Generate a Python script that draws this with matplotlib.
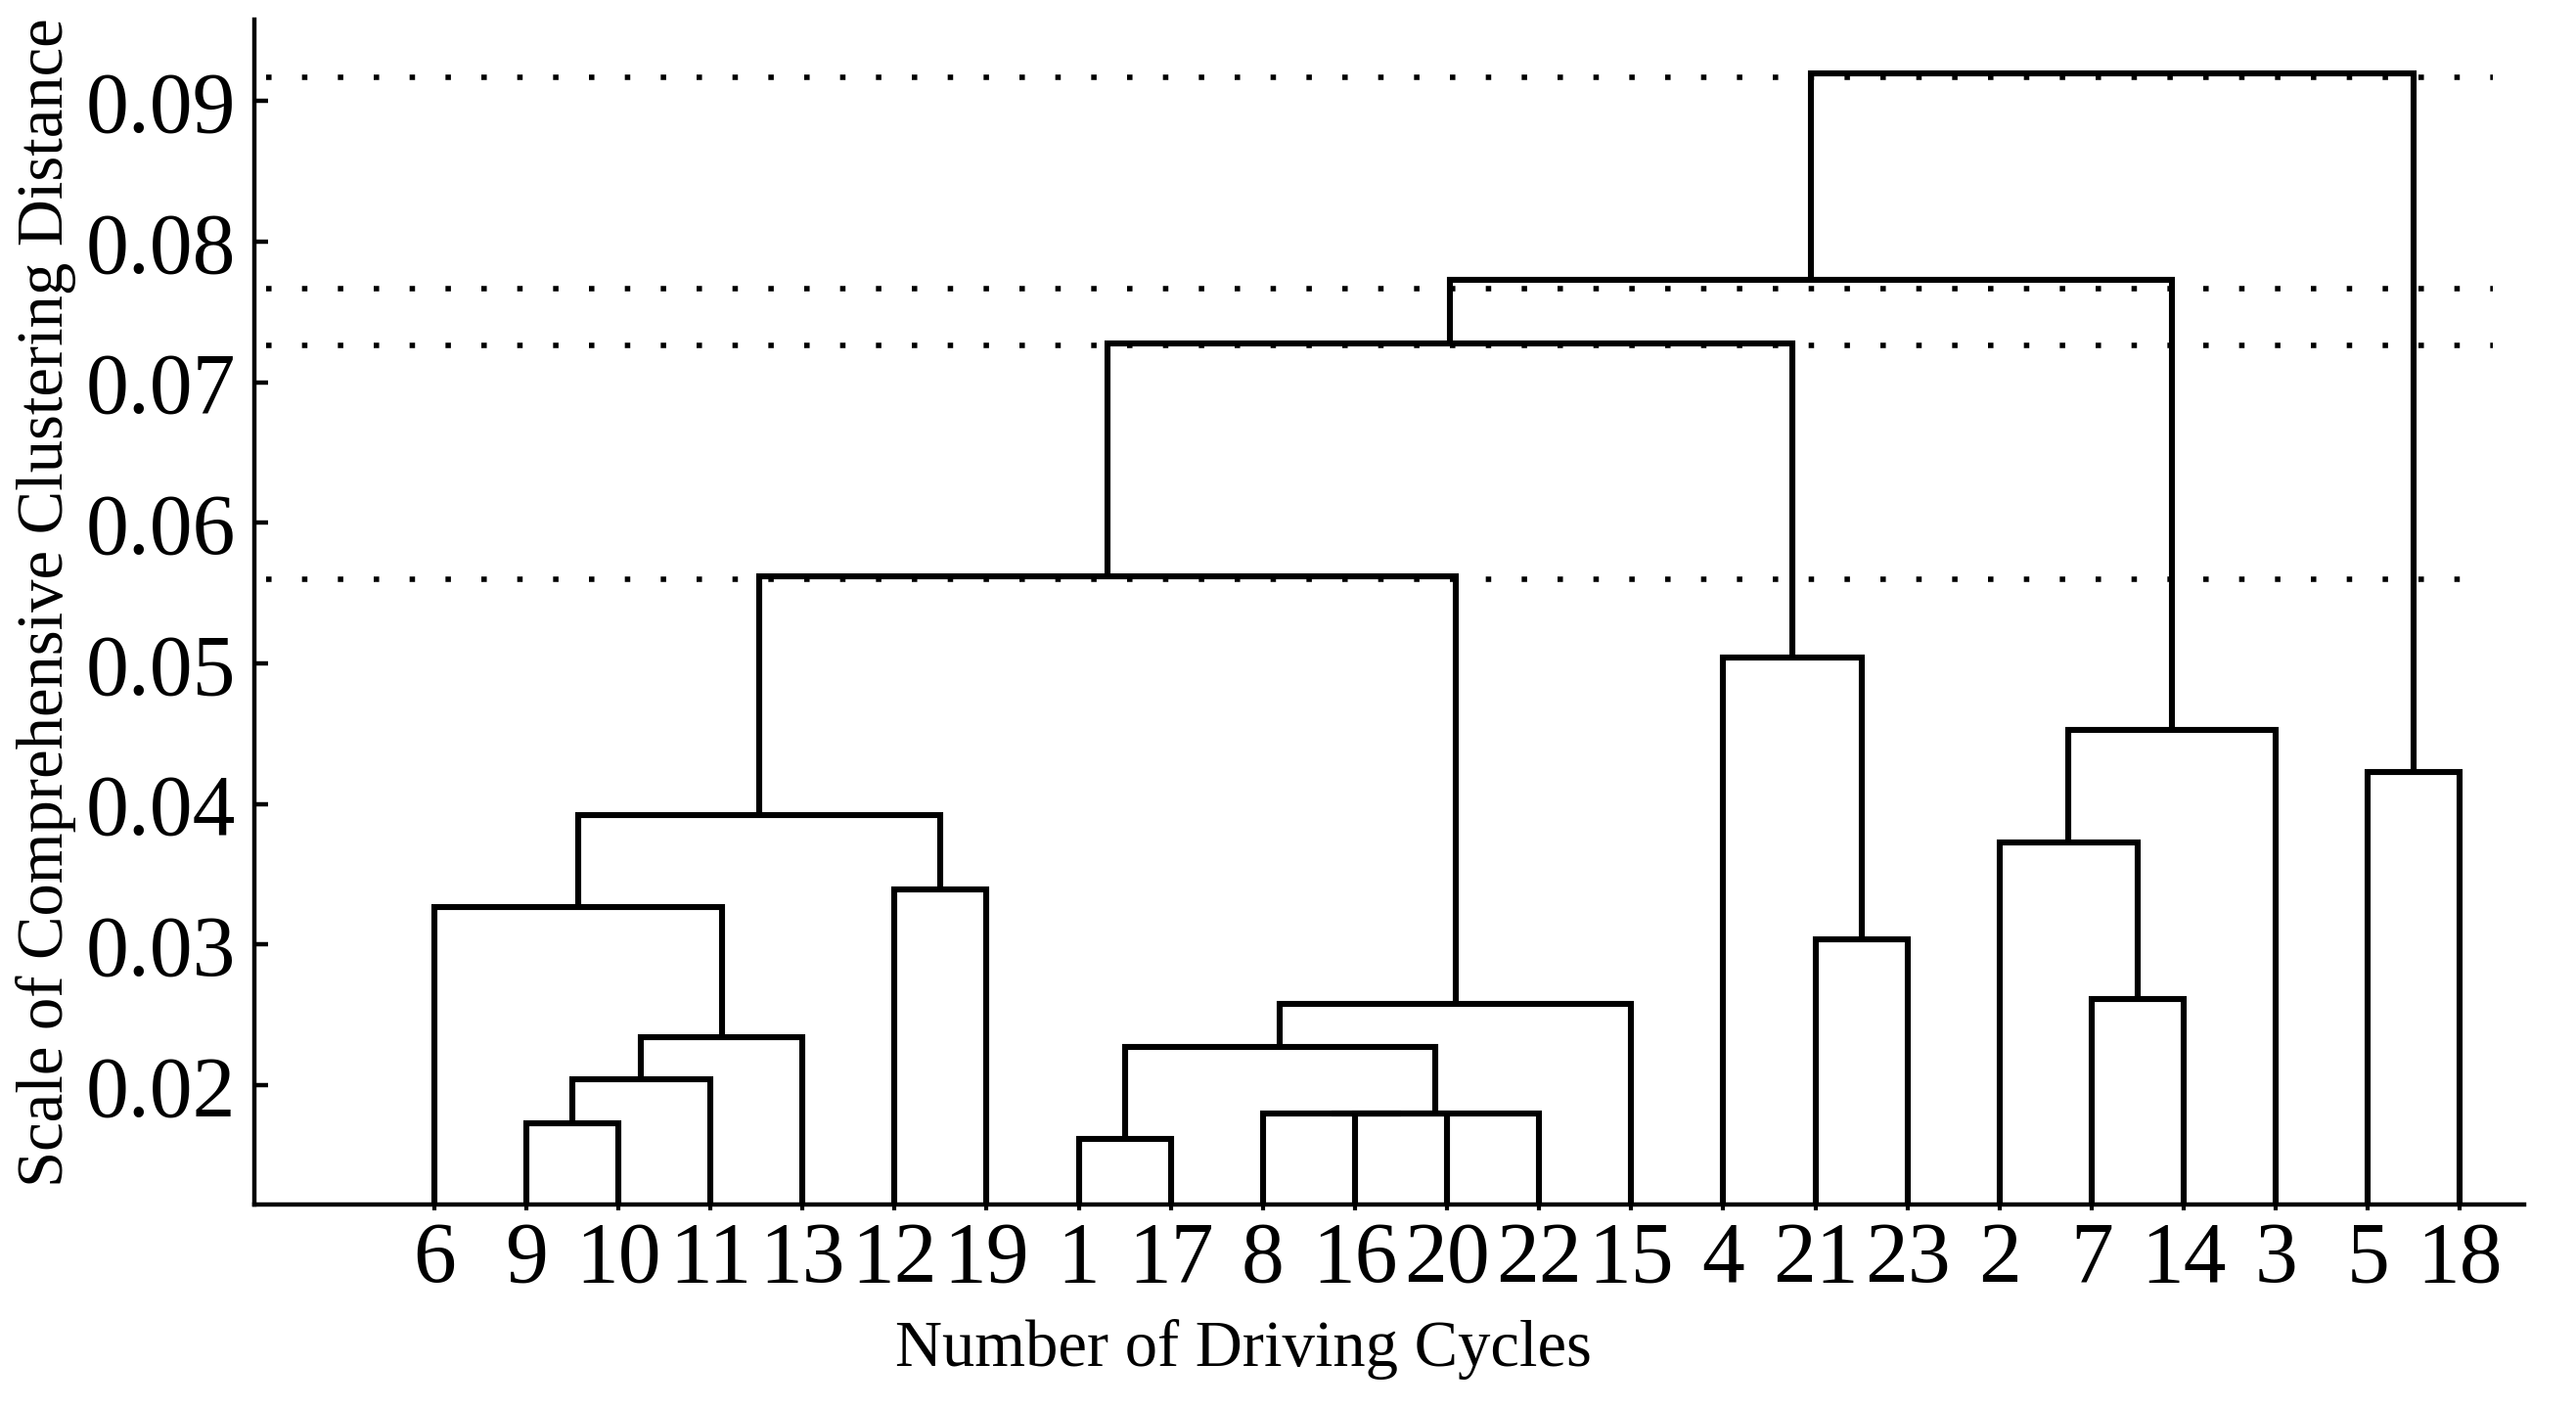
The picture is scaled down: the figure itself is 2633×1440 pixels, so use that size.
import matplotlib.pyplot as plt
import numpy as np

# leaf order along the x axis (driving cycle numbers)
leaf_order = [6, 9, 10, 11, 13, 12, 19, 1, 17, 8, 16, 20, 22, 15, 4, 21, 23, 2, 7, 14, 3, 5, 18]

# linkage: cluster 24, 25, ... is formed by merging left/right at the given height
# (ids 1..23 are the leaves themselves)
merge_left = [9, 24, 25, 6, 12, 27, 1, 16, 8, 32, 30, 34, 29, 21, 4, 36, 7, 2, 41, 39, 5, 43]
merge_right = [10, 11, 13, 26, 19, 28, 17, 20, 31, 22, 33, 15, 35, 23, 37, 38, 14, 40, 3, 42, 18, 44]
merge_height = [0.0173, 0.0204, 0.0234, 0.0327, 0.0339, 0.0392, 0.0162, 0.0180, 0.0180, 0.0180,
                0.0227, 0.0258, 0.0562, 0.0304, 0.0504, 0.0728, 0.0261, 0.0373, 0.0453, 0.0773,
                0.0423, 0.0920]

# dotted cut levels
cut_levels = [0.0917, 0.0767, 0.0726, 0.0560]

y_ticks = [0.02, 0.03, 0.04, 0.05, 0.06, 0.07, 0.08, 0.09]

plt.rcParams['font.family'] = ['Liberation Serif', 'DejaVu Serif']

fig = plt.figure(figsize=(26.33, 14.40), dpi=100)
ax = fig.add_axes([0.0988, 0.145, 0.8812, 0.841])

n = len(leaf_order)
# x position and height of every node
node_x = {leaf: i + 1 for i, leaf in enumerate(leaf_order)}
node_h = {leaf: 0.0 for leaf in leaf_order}

for k, (a, b, h) in enumerate(zip(merge_left, merge_right, merge_height)):
    cid = n + 1 + k
    xa, xb = node_x[a], node_x[b]
    ax.plot([xa, xa, xb, xb], [node_h[a], h, h, node_h[b]],
            color='black', lw=4.4, solid_joinstyle='miter', solid_capstyle='butt')
    node_x[cid] = (xa + xb) / 2.0
    node_h[cid] = h

# cut lines
for i, lev in enumerate(cut_levels):
    xmax = 0.986 if i < 3 else 0.980
    ax.axhline(lev, xmin=0.005, xmax=xmax, color='black', lw=4.0,
               linestyle=(0, (1, 5.6)), dash_capstyle='butt')

ax.set_xlim(-0.95, 23.7)
ax.set_ylim(0.0115, 0.0958)

ax.set_yticks(y_ticks)
ax.set_yticklabels(['%.2f' % v for v in y_ticks])
ax.set_xticks(np.arange(1, n + 1))
ax.set_xticklabels([str(v) for v in leaf_order])

ax.tick_params(axis='y', direction='in', length=10, width=3.2, labelsize=63, pad=14)
ax.tick_params(axis='x', direction='out', length=4, width=3.0, labelsize=63, pad=8)

for side in ['top', 'right']:
    ax.spines[side].set_visible(False)
for side in ['left', 'bottom']:
    ax.spines[side].set_linewidth(3.2)

ax.set_xlabel('Number of Driving Cycles', fontsize=48)
ax.set_ylabel('Scale of Comprehensive Clustering Distance', fontsize=48)
ax.xaxis.set_label_coords(0.4356, -0.0966)
ax.yaxis.set_label_coords(-0.0784, 0.508)

fig.savefig('out.png', dpi=100)
